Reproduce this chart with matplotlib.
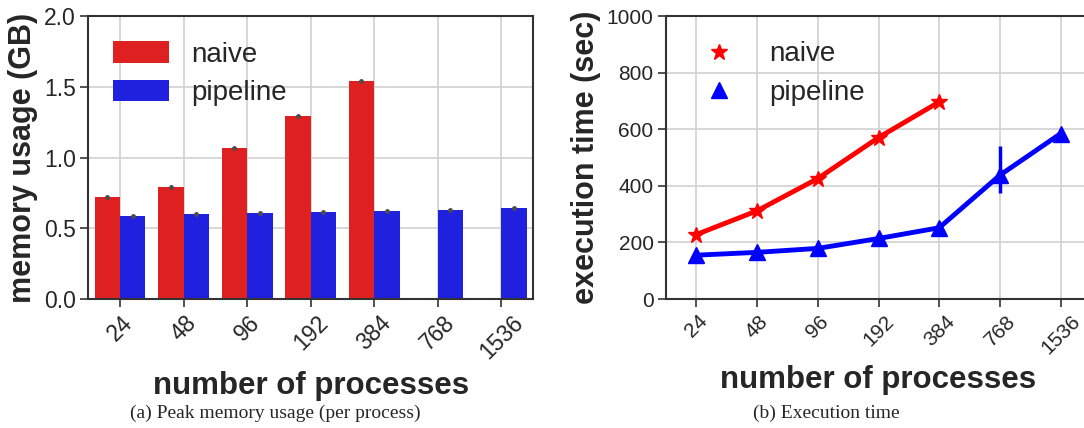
import numpy as np
import matplotlib
matplotlib.use('Agg')
import matplotlib.pyplot as plt
from matplotlib.lines import Line2D
import seaborn as sns

procs = ['24', '48', '96', '192', '384', '768', '1536']

# peak memory per process (GB)
mem_naive = [0.718, 0.789, 1.067, 1.291, 1.545]
mem_naive_err = [0.004, 0.004, 0.004, 0.004, 0.004]
mem_pipeline = [0.584, 0.598, 0.605, 0.612, 0.620, 0.627, 0.641]
mem_pipeline_err = [0.004, 0.004, 0.004, 0.004, 0.004, 0.004, 0.004]

# execution time (sec)
time_naive = [228, 312, 426, 571, 697]
time_pipeline = [155, 165, 179, 214, 252, 438, 585]
time_pipeline_lo = [0, 0, 0, 0, 0, 62, 0]
time_pipeline_hi = [0, 0, 0, 0, 0, 102, 0]

sns.set_style('whitegrid')
plt.rcParams['font.family'] = ['Liberation Sans', 'DejaVu Sans']
plt.rcParams['axes.edgecolor'] = '.2'
plt.rcParams['axes.linewidth'] = 1.5
plt.rcParams['grid.color'] = '.82'
plt.rcParams['grid.linewidth'] = 1.2
plt.rcParams['xtick.color'] = '.2'
plt.rcParams['ytick.color'] = '.2'
plt.rcParams['xtick.labelcolor'] = '.15'
plt.rcParams['ytick.labelcolor'] = '.15'

red_bar = '#df2020'
blue_bar = '#2020df'

fig = plt.figure(figsize=(10.84, 4.28), dpi=100)
W, H = 1084, 428
ax1 = fig.add_axes([88.2 / W, 0.3014, 444.9 / W, 0.6606])
ax2 = fig.add_axes([666 / W, 0.3014, 425 / W, 0.6606])

x = np.arange(len(procs))
bw = 0.4

# --- (a) memory ---
xn = x[:len(mem_naive)] - bw / 2
xp = x + bw / 2
ax1.bar(xn, mem_naive, width=bw, color=red_bar, linewidth=0, label='naive', zorder=2)
ax1.bar(xp, mem_pipeline, width=bw, color=blue_bar, linewidth=0, label='pipeline', zorder=2)
# tiny confidence intervals show up as small dark dots on the bar tops
ax1.errorbar(xn, mem_naive, yerr=mem_naive_err, fmt='o', ms=2.5, color='.3',
             ecolor='.3', elinewidth=2, zorder=3)
ax1.errorbar(xp, mem_pipeline, yerr=mem_pipeline_err, fmt='o', ms=2.5, color='.3',
             ecolor='.3', elinewidth=2, zorder=3)
ax1.set_xlim(-0.5, 6.5)
ax1.set_ylim(0, 2.0)
ax1.set_yticks([0.0, 0.5, 1.0, 1.5, 2.0])
ax1.set_ylabel('memory usage (GB)', fontsize=22, fontweight='bold', labelpad=4)
ax1.legend(loc='upper left', fontsize=20, frameon=False, labelspacing=0.45,
           handlelength=2.0, handleheight=0.8)

# --- (b) execution time ---
ax2.plot(x[:len(time_naive)], time_naive, color='red', lw=3.5, marker='*',
         markersize=12, zorder=3)
ax2.plot(x, time_pipeline, color='blue', lw=3.5, marker='^', markersize=11, zorder=3)
ax2.errorbar(x, time_pipeline, yerr=[time_pipeline_lo, time_pipeline_hi], fmt='none',
             ecolor='blue', elinewidth=2.5, zorder=3)
ax2.set_xlim(-0.5, 6.5)
ax2.set_ylim(0, 1000)
ax2.set_yticks([0, 200, 400, 600, 800, 1000])
ax2.set_ylabel('execution time (sec)', fontsize=22, fontweight='bold', labelpad=4)
handles = [Line2D([], [], color='red', marker='*', markersize=12, linestyle='none'),
           Line2D([], [], color='blue', marker='^', markersize=11, linestyle='none')]
ax2.legend(handles, ['naive', 'pipeline'], loc='upper left', fontsize=20, frameon=False,
           labelspacing=0.45, numpoints=1)

for ax, fs in ((ax1, 16.5), (ax2, 15)):
    ax.set_xticks(x)
    ax.set_xticklabels(procs, rotation=45, ha='center')
    ax.tick_params(axis='both', which='major', length=6, width=1.2, direction='out',
                   bottom=True, left=True, labelsize=fs, pad=3)
    ax.set_xlabel('number of processes', fontsize=22.5, fontweight='bold', labelpad=5)
    ax.set_axisbelow(True)
    for s in ax.spines.values():
        s.set_visible(True)

fig.text(275 / W, 1 - 413 / H, '(a) Peak memory usage (per process)', ha='center', va='center',
         fontsize=14, family=['Liberation Serif', 'DejaVu Serif'])
fig.text(826 / W, 1 - 413 / H, '(b) Execution time', ha='center', va='center',
         fontsize=14, family=['Liberation Serif', 'DejaVu Serif'])

fig.savefig('out.png', dpi=100)
